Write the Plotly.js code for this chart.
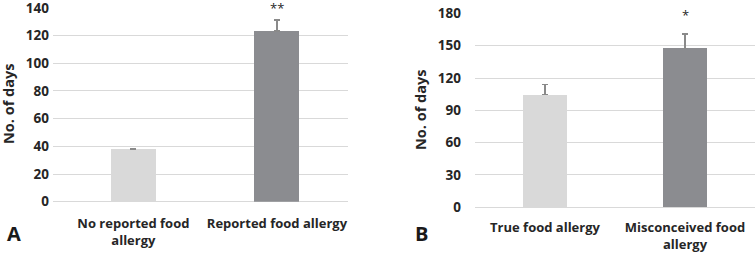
<!DOCTYPE html>
<html><head><meta charset="utf-8">
<script src="https://cdn.plot.ly/plotly-3.0.1.min.js"></script>
<style>html,body{margin:0;padding:0;background:#fff}#c{width:755px;height:254px}</style>
</head><body><div id="c"></div>
<script>
// Panel A
const catsA = ["No reported food<br>allergy", "Reported food allergy"];
const valsA = [38, 123.2];
const errA = [0.6, 8];
const sigA = ["", "**"];
// Panel B
const catsB = ["True food allergy", "Misconceived food<br>allergy"];
const valsB = [104.5, 147.5];
const errB = [9.3, 13.5];
const sigB = ["", "*"];
const colors = ["#d9d9d9", "#8b8c90"];
const ticksA = [0, 20, 40, 60, 80, 100, 120, 140];
const ticksB = [0, 30, 60, 90, 120, 150, 180];

const W = 755, H = 254;
const fx = p => p / W, fy = p => 1 - p / H;
const FONT = "'Open Sans', Lato, sans-serif";
const TXT = "#262626";

const traces = [
  {type: "bar", x: catsA, y: valsA, xaxis: "x", yaxis: "y", width: 0.314,
   marker: {color: colors}, cliponaxis: false,
   error_y: {type: "data", symmetric: false, array: errA, arrayminus: [0, 0], color: "#8a8a8a", thickness: 1.3, width: 3},
   hoverinfo: "none"},
  {type: "bar", x: catsB, y: valsB, xaxis: "x2", yaxis: "y2", width: 0.32,
   marker: {color: colors}, cliponaxis: false,
   error_y: {type: "data", symmetric: false, array: errB, arrayminus: [0, 0], color: "#8a8a8a", thickness: 1.3, width: 3},
   hoverinfo: "none"}
];

const tickFont = {family: FONT, size: 13.5, color: TXT, weight: "bold"};
const axY = (dom, ticks, anchor, standoff) => ({
  domain: dom, anchor: anchor, range: [0, ticks[ticks.length - 1] * 1.0008],
  tickvals: ticks, ticktext: ticks.map(String), showgrid: true, gridcolor: "#d9d9d9", gridwidth: 1,
  zeroline: true, zerolinecolor: "#d9d9d9", zerolinewidth: 1, showline: false, ticks: "",
  tickfont: tickFont, ticklabelstandoff: standoff, ticklabeloverflow: "allow", fixedrange: true
});
const axX = (dom, rng, anchor, standoff) => ({
  domain: dom, anchor: anchor, range: rng, type: "category", showgrid: false, zeroline: false,
  showline: false, ticks: "", tickfont: {family: FONT, size: 13, color: TXT, weight: "bold"},
  ticklabelstandoff: standoff, ticklabeloverflow: "allow", fixedrange: true
});

const annotations = [];
sigA.forEach((s, i) => { if (s) annotations.push({xref: "x", yref: "y", x: catsA[i], y: valsA[i] + errA[i], text: s, showarrow: false, yanchor: "bottom", yshift: 1, font: {family: FONT, size: 13, color: TXT}}); });
sigB.forEach((s, i) => { if (s) annotations.push({xref: "x2", yref: "y2", x: catsB[i], y: valsB[i] + errB[i], text: s, showarrow: false, yanchor: "bottom", yshift: 8, font: {family: FONT, size: 13, color: TXT}}); });
annotations.push({xref: "paper", yref: "paper", x: fx(9), y: fy(104), text: "No. of days", textangle: -90, showarrow: false, xanchor: "center", yanchor: "middle", font: {family: FONT, size: 14.5, color: TXT, weight: "bold"}});
annotations.push({xref: "paper", yref: "paper", x: fx(420), y: fy(110), text: "No. of days", textangle: -90, showarrow: false, xanchor: "center", yanchor: "middle", font: {family: FONT, size: 14.5, color: TXT, weight: "bold"}});
annotations.push({xref: "paper", yref: "paper", x: fx(14), y: fy(233), text: "A", showarrow: false, xanchor: "center", yanchor: "middle", font: {family: FONT, size: 20, color: "#1a1a1a", weight: "bold"}});
annotations.push({xref: "paper", yref: "paper", x: fx(422), y: fy(233), text: "B", showarrow: false, xanchor: "center", yanchor: "middle", font: {family: FONT, size: 20, color: "#1a1a1a", weight: "bold"}});

const layout = {
  width: W, height: H, margin: {l: 0, r: 0, t: 0, b: 0},
  paper_bgcolor: "#fff", plot_bgcolor: "#fff", showlegend: false, bargap: 0,
  xaxis: axX([fx(53), fx(348)], [-0.56, 1.495], "y", 12),
  yaxis: axY([fy(201.7), fy(7.7)], ticksA, "x", 3),
  xaxis2: axX([fx(475), fx(755)], [-0.5, 1.5], "y2", 11),
  yaxis2: axY([fy(207.3), fy(13.3)], ticksB, "x2", 13),
  annotations: annotations
};
Plotly.newPlot("c", traces, layout, {staticPlot: true, displayModeBar: false});
</script></body></html>
